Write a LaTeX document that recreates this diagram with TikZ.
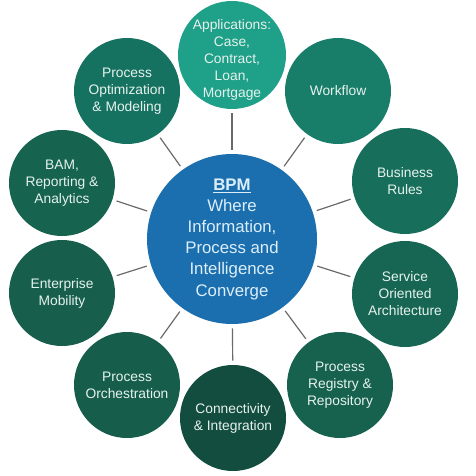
\documentclass[tikz,border=0pt]{standalone}
\usepackage{fontspec}
\setmainfont{Liberation Sans}
\definecolor{bpmblue}{HTML}{1B6FAE}
\definecolor{hubtext}{HTML}{DCEEFA}
\definecolor{leaftext}{HTML}{E6F2EE}
\definecolor{linkgray}{HTML}{6A6A6A}
\definecolor{tealA}{HTML}{1FA088}
\definecolor{tealB}{HTML}{187D69}
\definecolor{tealC}{HTML}{176E5B}
\definecolor{tealD}{HTML}{176654}
\definecolor{tealE}{HTML}{17624F}
\definecolor{tealF}{HTML}{134D3F}
\definecolor{tealG}{HTML}{165E4B}
\definecolor{tealH}{HTML}{175F4C}
\definecolor{tealI}{HTML}{166350}
\definecolor{tealJ}{HTML}{167260}
\begin{document}
\begin{tikzpicture}[x=0.5pt,y=-0.5pt,
    hub/.style={circle, fill=bpmblue, minimum size=85pt, inner sep=0pt, align=center,
      text=hubtext, font=\fontsize{8.4}{10.6}\selectfont},
    leaf/.style={circle, minimum size=53pt, inner sep=0pt, align=center,
      text=leaftext, font=\fontsize{6.9}{8.5}\selectfont},
    link/.style={draw=linkgray, line width=0.6pt, shorten <=2pt, shorten >=2pt}]
    \useasboundingbox (0,0) rectangle (476,476);

    \node[hub] (bpm) at (232,239) {\underline{\textbf{BPM}}\\Where\\Information,\\Process and\\Intelligence\\Converge};

    \node[leaf, fill=tealA, minimum size=54pt] (apps) at (232,55) {};
    \node[align=center, text=leaftext, font=\fontsize{6.9}{8.5}\selectfont, inner sep=0pt] (appstext) at (232,60) {Applications:\\Case,\\Contract,\\Loan,\\Mortgage};
    \node[leaf, fill=tealB] (workflow) at (338,91) {Workflow};
    \node[leaf, fill=tealC] (rules) at (405,181) {Business\\Rules};
    \node[leaf, fill=tealD] (soa) at (405,294) {Service\\Oriented\\Architecture};
    \node[leaf, fill=tealE] (registry) at (340,385) {Process\\Registry \&\\Repository};
    \node[leaf, fill=tealF] (connect) at (233,418) {Connectivity\\\& Integration};
    \node[leaf, fill=tealG] (orch) at (127,385) {Process\\Orchestration};
    \node[leaf, fill=tealH] (mobility) at (62,293) {Enterprise\\Mobility};
    \node[leaf, fill=tealI] (bam) at (62,183) {BAM,\\Reporting \&\\Analytics};
    \node[leaf, fill=tealJ] (optim) at (127,91) {Process\\Optimization\\\& Modeling};

    \draw[link] (apps) -- (bpm);
    \draw[link] (workflow) -- (bpm);
    \draw[link] (rules) -- (bpm);
    \draw[link] (soa) -- (bpm);
    \draw[link] (registry) -- (bpm);
    \draw[link] (connect) -- (bpm);
    \draw[link] (orch) -- (bpm);
    \draw[link] (mobility) -- (bpm);
    \draw[link] (bam) -- (bpm);
    \draw[link] (optim) -- (bpm);
\end{tikzpicture}
\end{document}
